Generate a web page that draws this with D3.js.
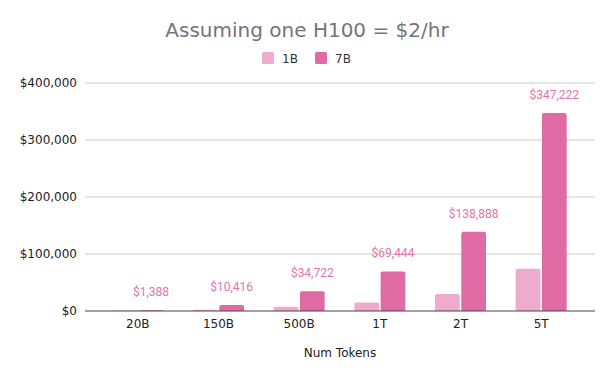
<!DOCTYPE html>
<html>
<head>
<meta charset="utf-8">
<script src="https://cdn.jsdelivr.net/npm/d3@7"></script>
<style>
  html, body { margin: 0; padding: 0; background: #fff; }
  svg { display: block; }
</style>
</head>
<body>
<script>
const categories = ["20B", "150B", "500B", "1T", "2T", "5T"];
const seriesNames = ["1B", "7B"];
const values1B = [296, 2222, 7407, 14815, 29630, 74074];
const values7B = [1388, 10416, 34722, 69444, 138888, 347222];
const labels7B = ["$1,388", "$10,416", "$34,722", "$69,444", "$138,888", "$347,222"];
const yTicks = [0, 100000, 200000, 300000, 400000];

const W = 614, H = 379;
const colors = { "1B": "#efabcc", "7B": "#e06aa4" };
const labelColor = "#e274ab";

const svg = d3.select("body").append("svg").attr("width", W).attr("height", H);

const plot = { left: 85, right: 595, top: 83, bottom: 311 };

const y = d3.scaleLinear().domain([0, 400000]).range([plot.bottom, plot.top]);
const x0 = d3.scaleBand().domain(categories).range([97.5, 581.5]).paddingInner(0).paddingOuter(0);
const x1 = d3.scaleBand().domain(seriesNames).range([0, 51]).paddingInner(0.06);
const groupOffset = (x0.bandwidth() - 51) / 2;

// Title
svg.append("text")
  .attr("x", 307).attr("y", 37)
  .attr("text-anchor", "middle")
  .attr("font-family", "DejaVu Sans, Verdana, sans-serif")
  .attr("font-size", 20)
  .attr("fill", "#757575")
  .text("Assuming one H100 = $2/hr");

// Legend
const legend = svg.append("g");
const legendItems = [{ name: "1B", x: 262 }, { name: "7B", x: 315 }];
legendItems.forEach(d => {
  legend.append("rect").attr("x", d.x).attr("y", 52).attr("width", 12).attr("height", 12)
    .attr("rx", 1.5).attr("fill", colors[d.name]);
  legend.append("text").attr("x", d.x + 20).attr("y", 62.5)
    .attr("font-family", "DejaVu Sans, Verdana, sans-serif").attr("font-size", 12)
    .attr("fill", "#333").text(d.name);
});

// Gridlines
svg.append("g").selectAll("line").data(yTicks.filter(t => t !== 0)).join("line")
  .attr("x1", plot.left).attr("x2", plot.right)
  .attr("y1", d => y(d)).attr("y2", d => y(d))
  .attr("stroke", "#cccccc").attr("stroke-width", 1);

// Y axis labels
const yAxis = d3.axisLeft(y).tickValues(yTicks).tickSize(0).tickPadding(8)
  .tickFormat(d => "$" + d3.format(",")(d));
const yg = svg.append("g").attr("transform", `translate(${plot.left},0)`).call(yAxis);
yg.select(".domain").remove();
yg.selectAll("text").attr("font-family", "DejaVu Sans, Verdana, sans-serif")
  .attr("font-size", 12).attr("fill", "#222");

// Bars
const rows = categories.map((c, i) => ({ cat: c, "1B": values1B[i], "7B": values7B[i], label: labels7B[i] }));
const groups = svg.append("g").selectAll("g").data(rows).join("g")
  .attr("transform", d => `translate(${x0(d.cat) + groupOffset},0)`);

function topRoundedBar(xp, w, yTop, yBot, r) {
  const h = yBot - yTop;
  if (h <= 0) return "";
  r = Math.min(r, h, w / 2);
  return `M${xp},${yBot}V${yTop + r}Q${xp},${yTop} ${xp + r},${yTop}H${xp + w - r}Q${xp + w},${yTop} ${xp + w},${yTop + r}V${yBot}Z`;
}

groups.selectAll("path").data(d => seriesNames.map(s => ({ s, v: d[s] }))).join("path")
  .attr("d", d => topRoundedBar(x1(d.s), x1.bandwidth(), y(d.v), y(0), 2))
  .attr("fill", d => colors[d.s]);

// Data labels for 7B
groups.append("text")
  .attr("x", x1("7B") + x1.bandwidth() / 2)
  .attr("y", d => y(d["7B"]) - 14)
  .attr("text-anchor", "middle")
  .attr("font-family", "Roboto, sans-serif")
  .attr("font-size", 12)
  .attr("fill", labelColor)
  .text(d => d.label);

// Baseline
svg.append("line").attr("x1", plot.left).attr("x2", plot.right)
  .attr("y1", y(0)).attr("y2", y(0)).attr("stroke", "#444").attr("stroke-width", 1);

// X axis labels
const xAxis = d3.axisBottom(x0).tickSize(0).tickPadding(8);
const xg = svg.append("g").attr("transform", `translate(0,${plot.bottom})`).call(xAxis);
xg.select(".domain").remove();
xg.selectAll("text").attr("font-family", "DejaVu Sans, Verdana, sans-serif")
  .attr("font-size", 12).attr("fill", "#222");

// X axis title
svg.append("text").attr("x", 340).attr("y", 357).attr("text-anchor", "middle")
  .attr("font-family", "DejaVu Sans, Verdana, sans-serif").attr("font-size", 12)
  .attr("fill", "#222").text("Num Tokens");
</script>
</body>
</html>
